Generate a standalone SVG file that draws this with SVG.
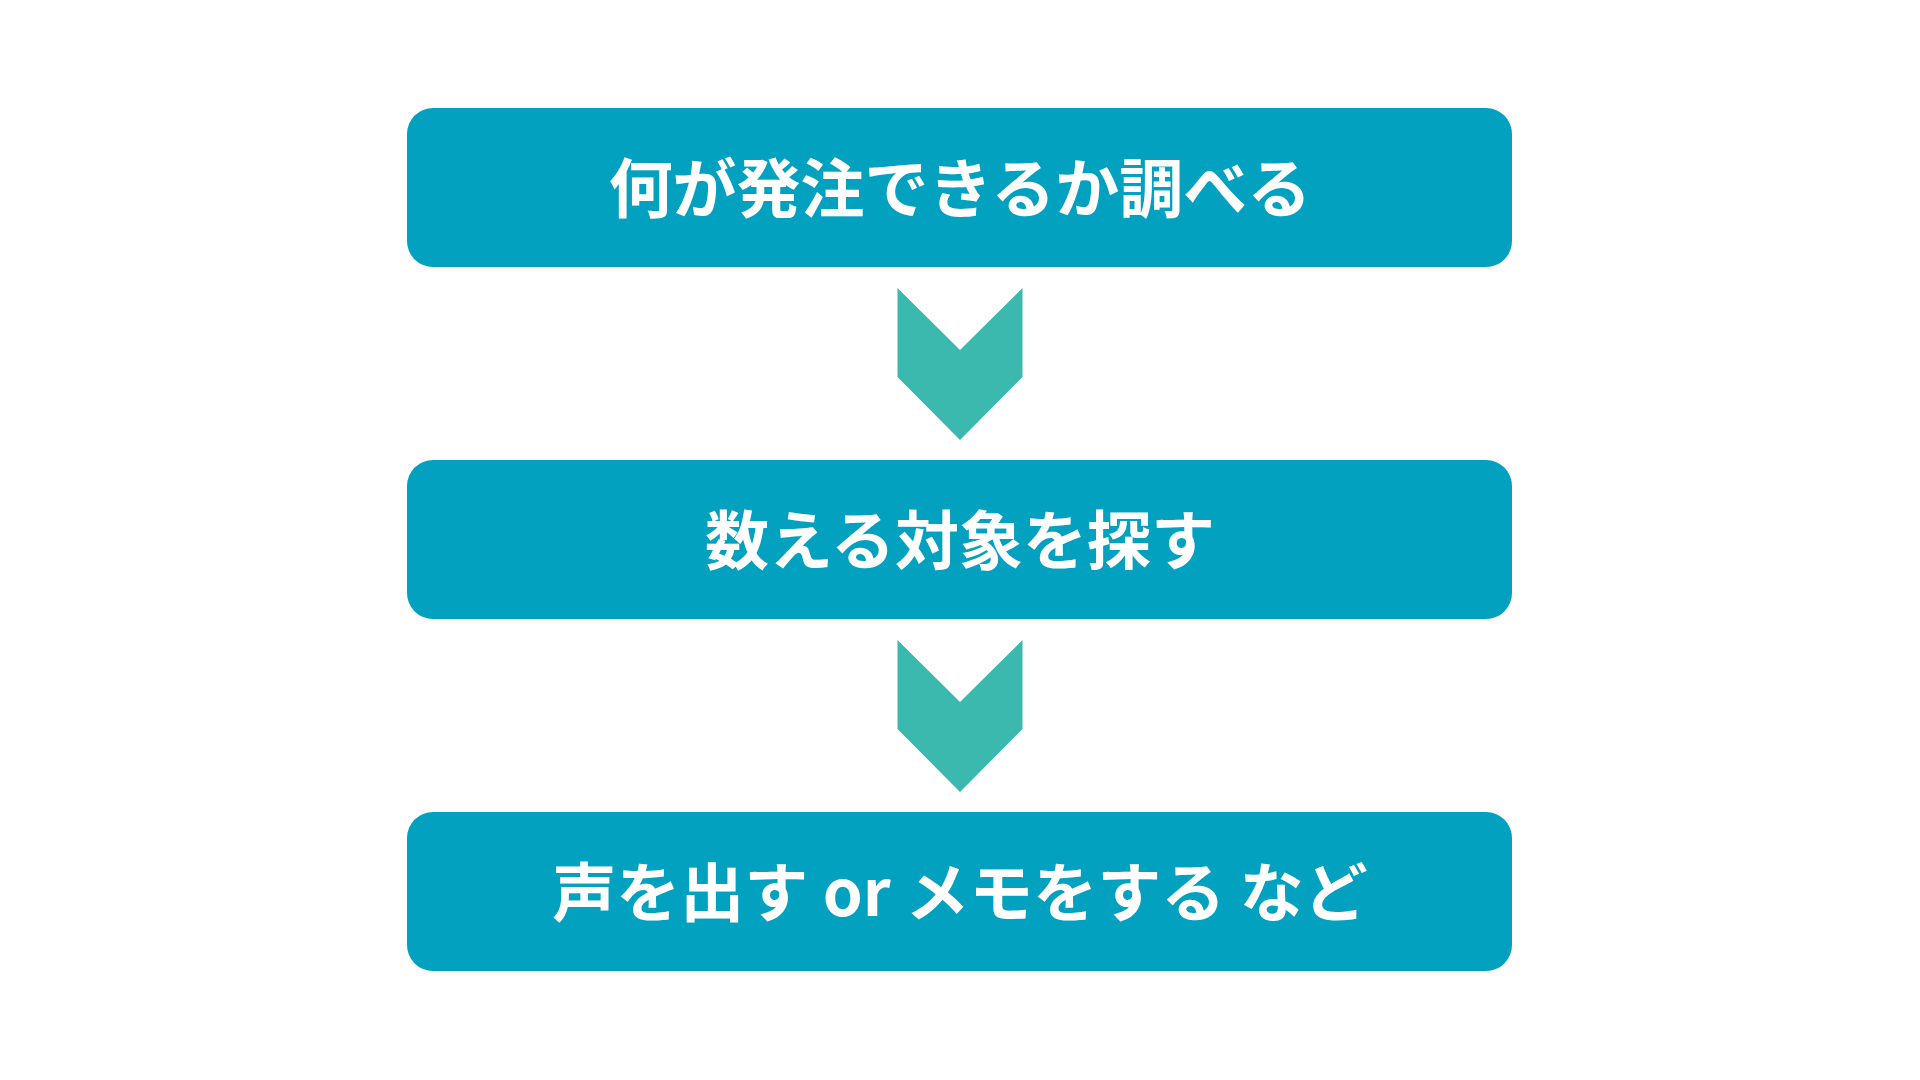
<svg xmlns="http://www.w3.org/2000/svg" width="1920" height="1080" viewBox="0 0 1920 1080">
<defs>
<style>
.box{fill:#02A1BF}
.chev{fill:#3BB9AF}
.lbl{fill:#FFFFFF;font-family:"Noto Sans CJK JP","Noto Sans",sans-serif;font-weight:700;font-size:64px;text-anchor:middle;dominant-baseline:central}
</style>
<polygon id="chevron" class="chev" points="-62.5,0 0,62 62.5,0 62.5,89 0,152 -62.5,89"/>
</defs>
<rect width="1920" height="1080" fill="#FFFFFF"/>
<g id="connectors">
<use href="#chevron" x="960" y="288"/>
<use href="#chevron" x="960" y="640"/>
</g>
<g id="node1">
<rect class="box" x="407" y="108" width="1105" height="159" rx="26" ry="26"/>
<text class="lbl" x="960" y="184">何が発注できるか調べる</text>
</g>
<g id="node2">
<rect class="box" x="407" y="460" width="1105" height="159" rx="26" ry="26"/>
<text class="lbl" x="960" y="536">数える対象を探す</text>
</g>
<g id="node3">
<rect class="box" x="407" y="812" width="1105" height="159" rx="26" ry="26"/>
<text class="lbl" x="960" y="888" xml:space="preserve">声を出す or メモをする など</text>
</g>
</svg>
